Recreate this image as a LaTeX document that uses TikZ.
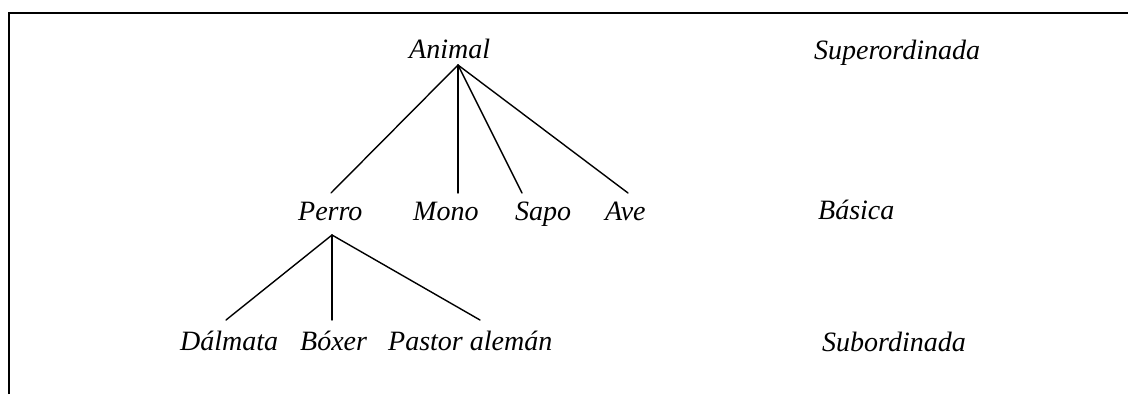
\documentclass[tikz,border=0pt]{standalone}
\usepackage{fontspec}
\setmainfont{Liberation Serif}
\begin{document}
\begin{tikzpicture}[x=1pt,y=-1pt,
  term/.style={inner sep=0pt, anchor=base west,
               font=\fontsize{28}{34}\selectfont\itshape},
  branch/.style={line width=1.4pt, line cap=round},
  frame/.style={line width=2.6pt}]
\useasboundingbox (0,0) rectangle (1128,394);

% open frame: left and top rules
\draw[frame] (9,394) -- (9,13) -- (1128,13);

% level labels
\node[term] (super)  at (814,59)  {Superordinada};
\node[term] (basica) at (818,219) {Básica};
\node[term] (sub)    at (822,351) {Subordinada};

% categories
\node[term] (animal)  at (409,58)  {Animal};
\node[term] (perro)   at (298,220) {Perro};
\node[term] (mono)    at (413,220) {Mono};
\node[term] (sapo)    at (515,220) {Sapo};
\node[term] (ave)     at (605,220) {Ave};
\node[term] (dalmata) at (180,350) {Dálmata};
\node[term] (boxer)   at (300,350) {Bóxer};
\node[term] (pastor)  at (388,350) {Pastor alemán};

% branch points and line ends
\coordinate (animal-root) at (458,65);
\coordinate (perro-root)  at (332,235);
\coordinate (perro-up)    at (331,193);
\coordinate (mono-up)     at (458,193);
\coordinate (sapo-up)     at (522,193);
\coordinate (ave-up)      at (628,193);
\coordinate (dalmata-up)  at (226,320);
\coordinate (boxer-up)    at (332,320);
\coordinate (pastor-up)   at (480,320);

% tree branches
\draw[branch] (animal-root) -- (perro-up);
\draw[branch] (animal-root) -- (mono-up);
\draw[branch] (animal-root) -- (sapo-up);
\draw[branch] (animal-root) -- (ave-up);
\draw[branch] (perro-root) -- (dalmata-up);
\draw[branch] (perro-root) -- (boxer-up);
\draw[branch] (perro-root) -- (pastor-up);
\end{tikzpicture}
\end{document}
